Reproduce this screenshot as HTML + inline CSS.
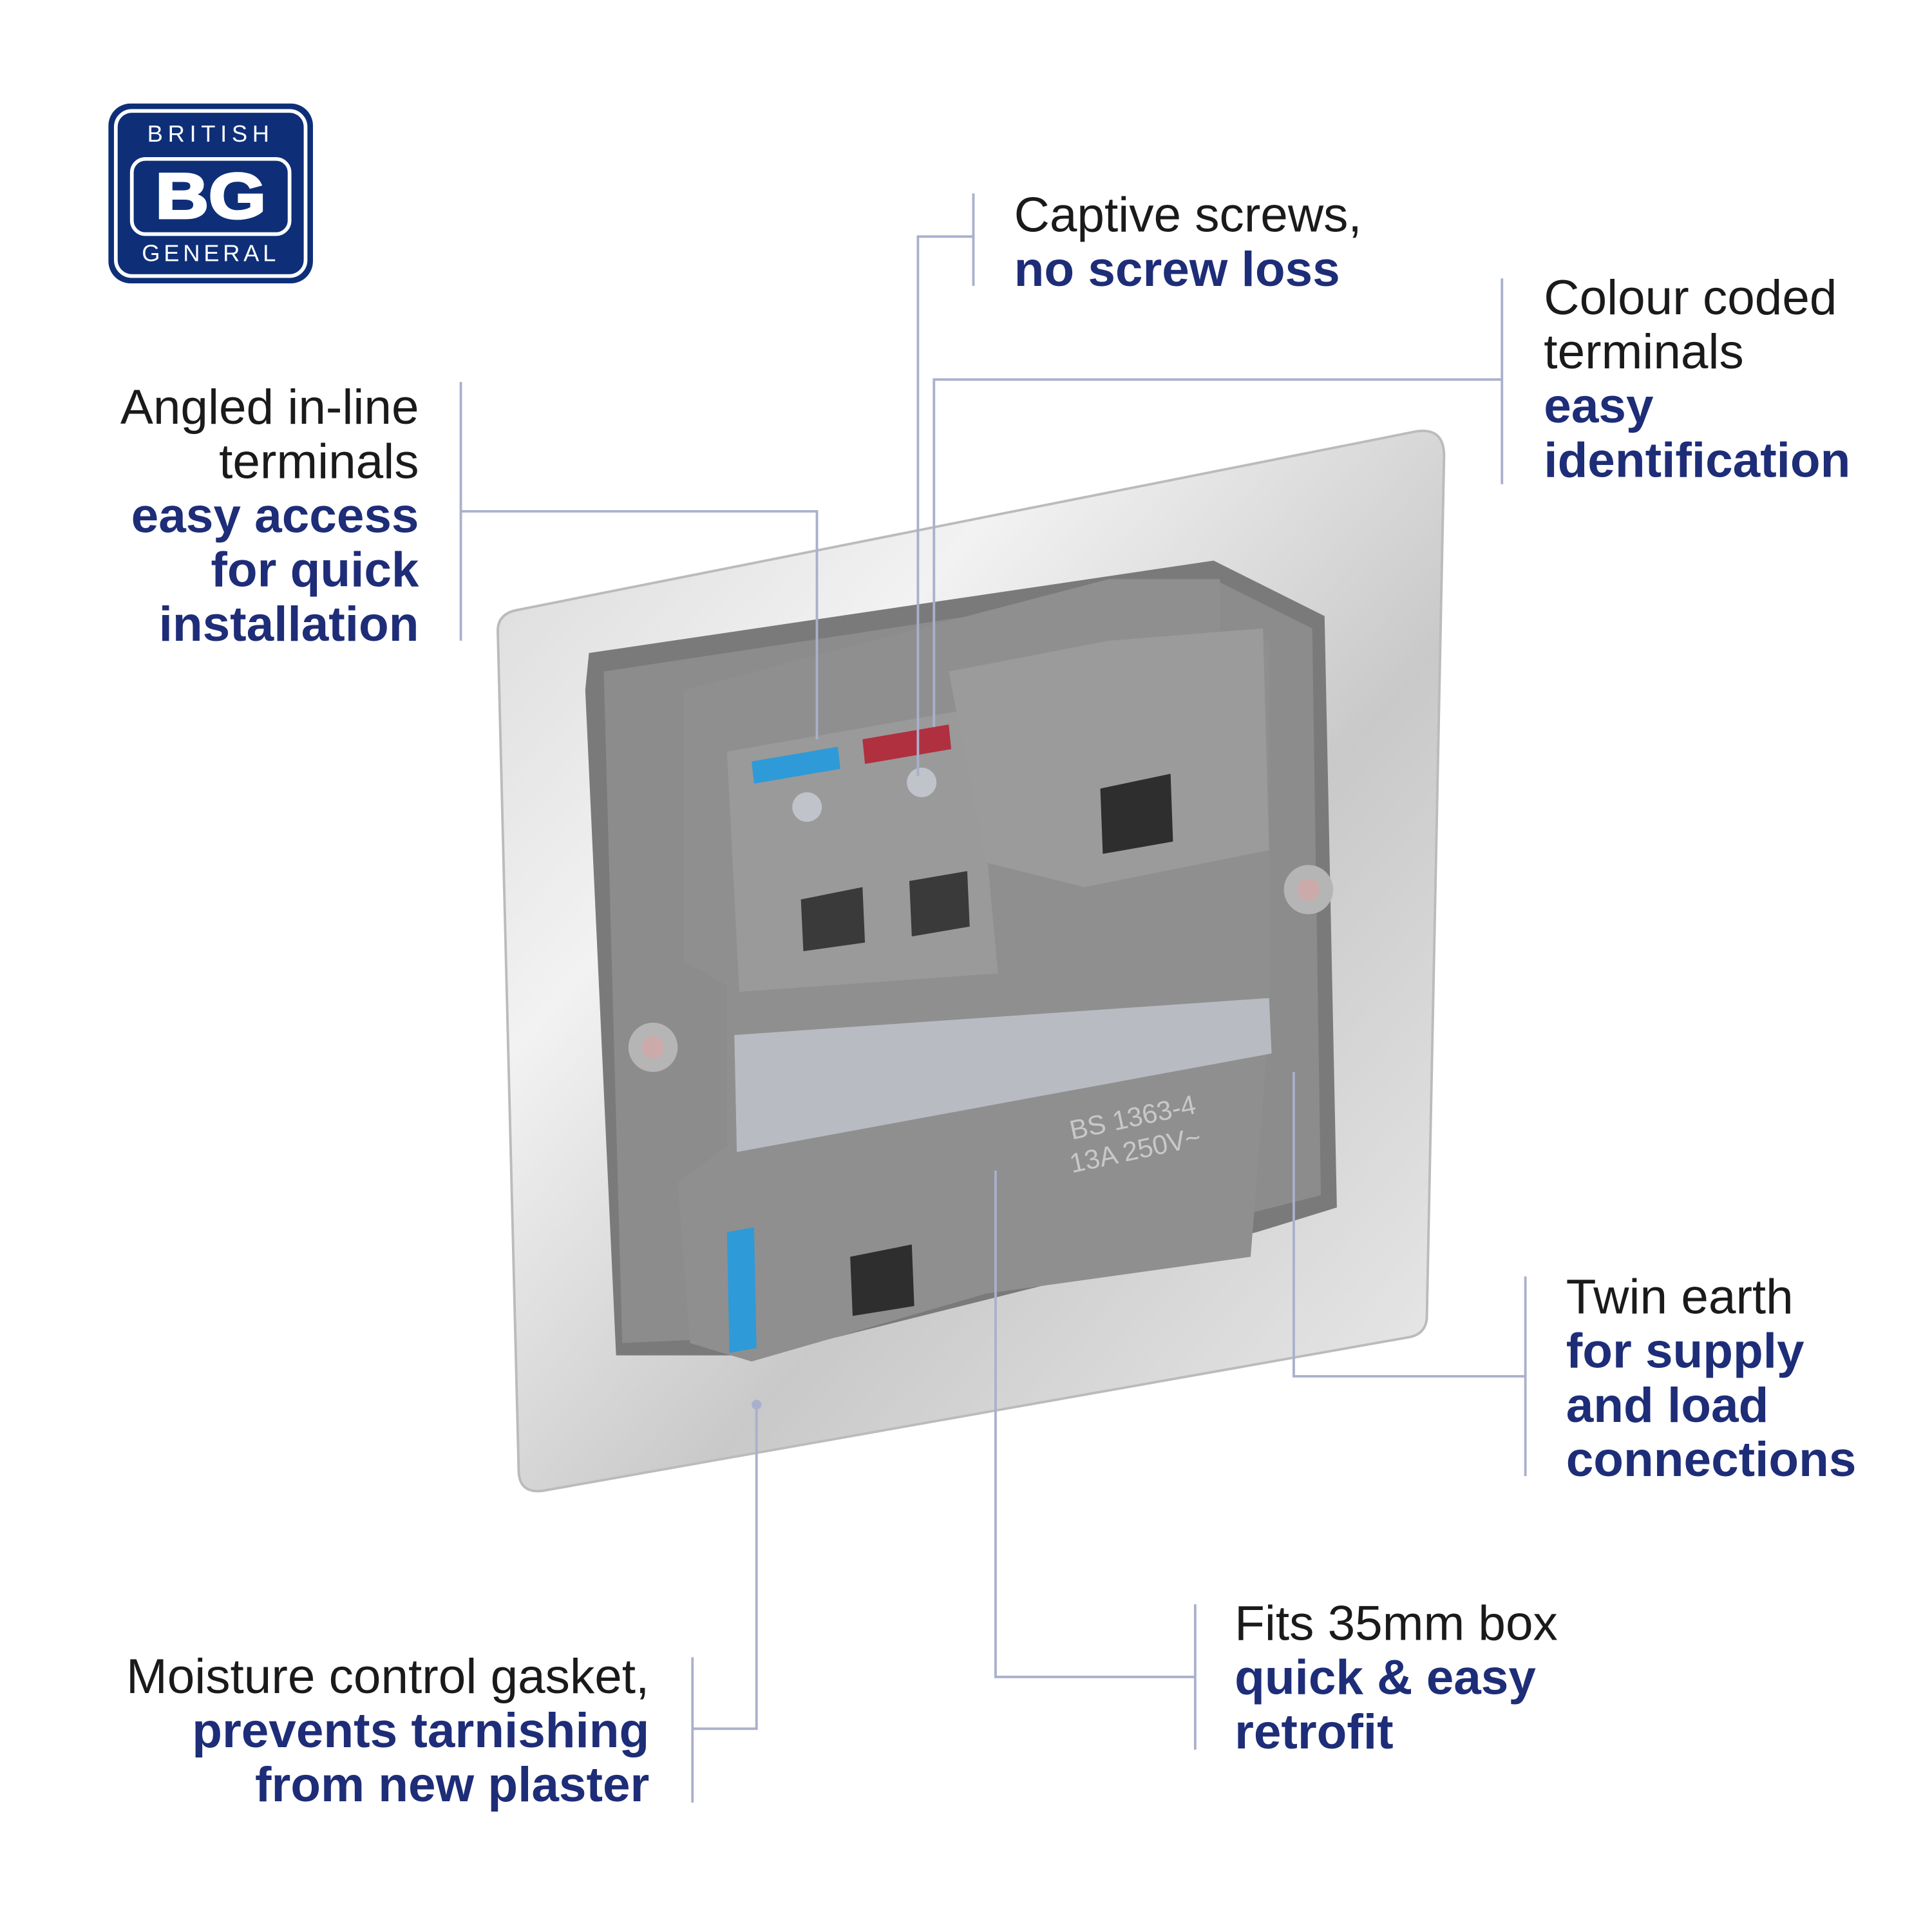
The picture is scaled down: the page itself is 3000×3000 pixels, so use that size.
<!DOCTYPE html>
<html><head><meta charset="utf-8"><style>
html,body{margin:0;padding:0;background:#fff}
svg{display:block}
text{font-family:"Liberation Sans",Arial,sans-serif}
.k{fill:#1a1a1a;font-size:40px}
.b{fill:#1e2d78;font-size:40px;font-weight:bold}
.l{stroke:#aab0cc;stroke-width:2;fill:none}
</style></head><body>
<svg width="3000" height="3000" viewBox="0 0 1568 1568" xmlns="http://www.w3.org/2000/svg">
<defs>
<linearGradient id="pl" x1="0" y1="0" x2="1" y2="1">
<stop offset="0" stop-color="#d8d8d8"/><stop offset="0.3" stop-color="#f2f2f2"/><stop offset="0.6" stop-color="#c9c9c9"/><stop offset="1" stop-color="#ececec"/>
</linearGradient>
</defs>
<rect x="0" y="0" width="1568" height="1568" fill="#fff"/>
<!-- logo -->
<rect x="88" y="84" width="166" height="146" rx="18" fill="#0e2f78"/>
<rect x="94" y="90" width="154" height="134" rx="13" fill="none" stroke="#fff" stroke-width="3"/>
<text x="171" y="115" fill="#fff" font-size="19" text-anchor="middle" letter-spacing="4">BRITISH</text>
<rect x="107" y="129" width="128" height="61" rx="11" fill="none" stroke="#fff" stroke-width="3"/>
<text x="171" y="177" fill="#fff" font-size="52" font-weight="bold" text-anchor="middle" stroke="#fff" stroke-width="2" transform="translate(171 0) scale(1.15 1) translate(-171 0)">BG</text>
<text x="171" y="212" fill="#fff" font-size="19" text-anchor="middle" letter-spacing="3">GENERAL</text>
<!-- plate -->
<path d="M420 495 L1150 350 Q1172 347 1172 370 L1158 1070 Q1157 1082 1145 1085 L440 1210 Q422 1212 421 1195 L404 512 Q404 498 420 495Z" fill="url(#pl)" stroke="#bbb" stroke-width="2"/>
<!-- dark gasket -->
<path d="M478 530 L985 455 L1075 500 L1085 980 L1020 1000 L620 1100 L500 1100 L475 560Z" fill="#7a7a7a"/>
<path d="M490 545 L985 470 L1065 510 L1072 970 L620 1085 L505 1090Z" fill="#8c8c8c"/>
<!-- body -->
<path d="M555 560 L900 470 L990 470 L990 520 L1030 520 L1030 830 L1015 1020 L800 1050 L610 1105 L560 1090 L550 960 L590 930 L590 800 L555 780Z" fill="#8f8f8f"/>
<path d="M590 610 L790 575 L810 790 L600 805Z" fill="#9a9a9a"/>
<path d="M770 545 L900 520 L1025 510 L1030 690 L880 720 L800 700Z" fill="#9b9b9b"/>
<polygon points="610,618 680,606 682,624 612,636" fill="#2f9ad8"/>
<polygon points="700,600 770,588 772,608 702,620" fill="#b03040"/>
<circle cx="655" cy="655" r="12" fill="#c0c4ca"/>
<circle cx="748" cy="635" r="12" fill="#c0c4ca"/>
<polygon points="650,730 700,720 702,765 652,772" fill="#3a3a3a"/>
<polygon points="738,715 785,707 787,752 740,760" fill="#3a3a3a"/>
<polygon points="893,640 950,628 952,683 895,693" fill="#2e2e2e"/>
<polygon points="690,1020 740,1010 742,1060 692,1068" fill="#2e2e2e"/>
<polygon points="596,840 1030,810 1032,855 598,935" fill="#b8bcc2"/>
<polygon points="590,1000 612,996 614,1094 592,1098" fill="#2f9ad8"/>
<circle cx="530" cy="850" r="20" fill="#b5b5b5"/><circle cx="530" cy="850" r="9" fill="#caa"/>
<circle cx="1062" cy="722" r="20" fill="#b5b5b5"/><circle cx="1062" cy="722" r="9" fill="#caa"/>
<text x="870" y="925" fill="#c8c8c8" font-size="22" transform="rotate(-12 870 925)">BS 1363-4</text>
<text x="870" y="952" fill="#c8c8c8" font-size="22" transform="rotate(-12 870 952)">13A 250V~</text>
<circle cx="614" cy="1140" r="4" fill="#aab0cc"/>
<!-- connectors -->
<path class="l" d="M374 310 V520 M374 415 H663 V600"/>
<path class="l" d="M790 157 V232 M790 192 H745 V630"/>
<path class="l" d="M1219 226 V393 M1219 308 H758 V590"/>
<path class="l" d="M1238 1036 V1198 M1238 1117 H1050 V870"/>
<path class="l" d="M970 1302 V1420 M970 1361 H808 V950"/>
<path class="l" d="M562 1345 V1463 M562 1403 H614 V1140"/>
<!-- texts -->
<g text-anchor="end">
<text class="k" x="340" y="344">Angled in-line</text>
<text class="k" x="340" y="388">terminals</text>
<text class="b" x="340" y="432">easy access</text>
<text class="b" x="340" y="476">for quick</text>
<text class="b" x="340" y="520">installation</text>
<text class="k" x="527" y="1374">Moisture control gasket,</text>
<text class="b" x="527" y="1418">prevents tarnishing</text>
<text class="b" x="527" y="1462">from new plaster</text>
</g>
<text class="k" x="823" y="188">Captive screws,</text>
<text class="b" x="823" y="232">no screw loss</text>
<text class="k" x="1253" y="255">Colour coded</text>
<text class="k" x="1253" y="299">terminals</text>
<text class="b" x="1253" y="343">easy</text>
<text class="b" x="1253" y="387">identification</text>
<text class="k" x="1271" y="1066">Twin earth</text>
<text class="b" x="1271" y="1110">for supply</text>
<text class="b" x="1271" y="1154">and load</text>
<text class="b" x="1271" y="1198">connections</text>
<text class="k" x="1002" y="1331">Fits 35mm box</text>
<text class="b" x="1002" y="1375">quick &amp; easy</text>
<text class="b" x="1002" y="1419">retrofit</text>
</svg>
</body></html>
